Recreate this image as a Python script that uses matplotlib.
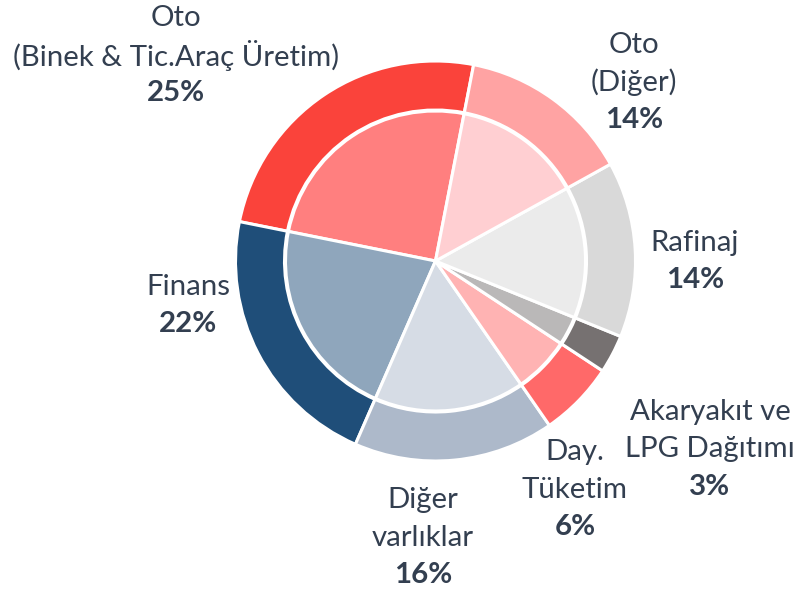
import matplotlib
matplotlib.use("Agg")
import matplotlib.pyplot as plt

# ---- data ----
categories = ["Oto\n(Binek & Tic.Araç Üretim)", "Finans", "Diğer\nvarlıklar", "Day.\nTüketim",
              "Akaryakıt ve\nLPG Dağıtımı", "Rafinaj", "Oto\n(Diğer)"]
values = [24.9, 21.6, 16.2, 6.1, 3.1, 14.2, 13.9]
pct_labels = ["25%", "22%", "16%", "6%", "3%", "14%", "14%"]

outer_colors = ["#FA433B", "#1F4E79", "#ADB9CA", "#FF6969", "#767171", "#D9D9D9", "#FFA3A3"]
inner_colors = ["#FF7F7F", "#8FA6BC", "#D6DCE5", "#FFB3B3", "#BAB8B8", "#EBEBEB", "#FFCFD2"]

# label positions in pixel coordinates (x, y of first line center)
label_pos = [(176, 18), (188, 287), (423, 500), (575, 452), (710, 412), (695, 243), (634, 45)]

W, H = 799, 597
fig = plt.figure(figsize=(W / 100, H / 100), dpi=100)
ax = fig.add_axes([0, 0, 1, 1])

cx, cy = 435.5, H - 261
R_out = 200
ring_w = 49
R_in = 150
start = 79

ax.pie(values, colors=outer_colors, radius=R_out, center=(cx, cy), startangle=start,
       counterclock=True, wedgeprops=dict(width=ring_w, edgecolor="white", linewidth=2.2))
ax.pie(values, colors=inner_colors, radius=R_in, center=(cx, cy), startangle=start,
       counterclock=True, wedgeprops=dict(edgecolor="white", linewidth=2.2))

ax.set_xlim(0, W)
ax.set_ylim(0, H)
ax.set_aspect("equal")
ax.axis("off")

txt_color = "#333F50"
fs = 21.2
line_h = 37.5
for cat, pct, (lx, ly) in zip(categories, pct_labels, label_pos):
    lines = cat.split("\n")
    for i, ln in enumerate(lines):
        ax.text(lx, H - (ly + i * line_h), ln, ha="center", va="center", fontsize=fs,
                color=txt_color, family="Lato")
    ax.text(lx, H - (ly + len(lines) * line_h), pct, ha="center", va="center", fontsize=fs,
            color=txt_color, family="Lato", fontweight="bold")

fig.savefig("out.png", dpi=100)
